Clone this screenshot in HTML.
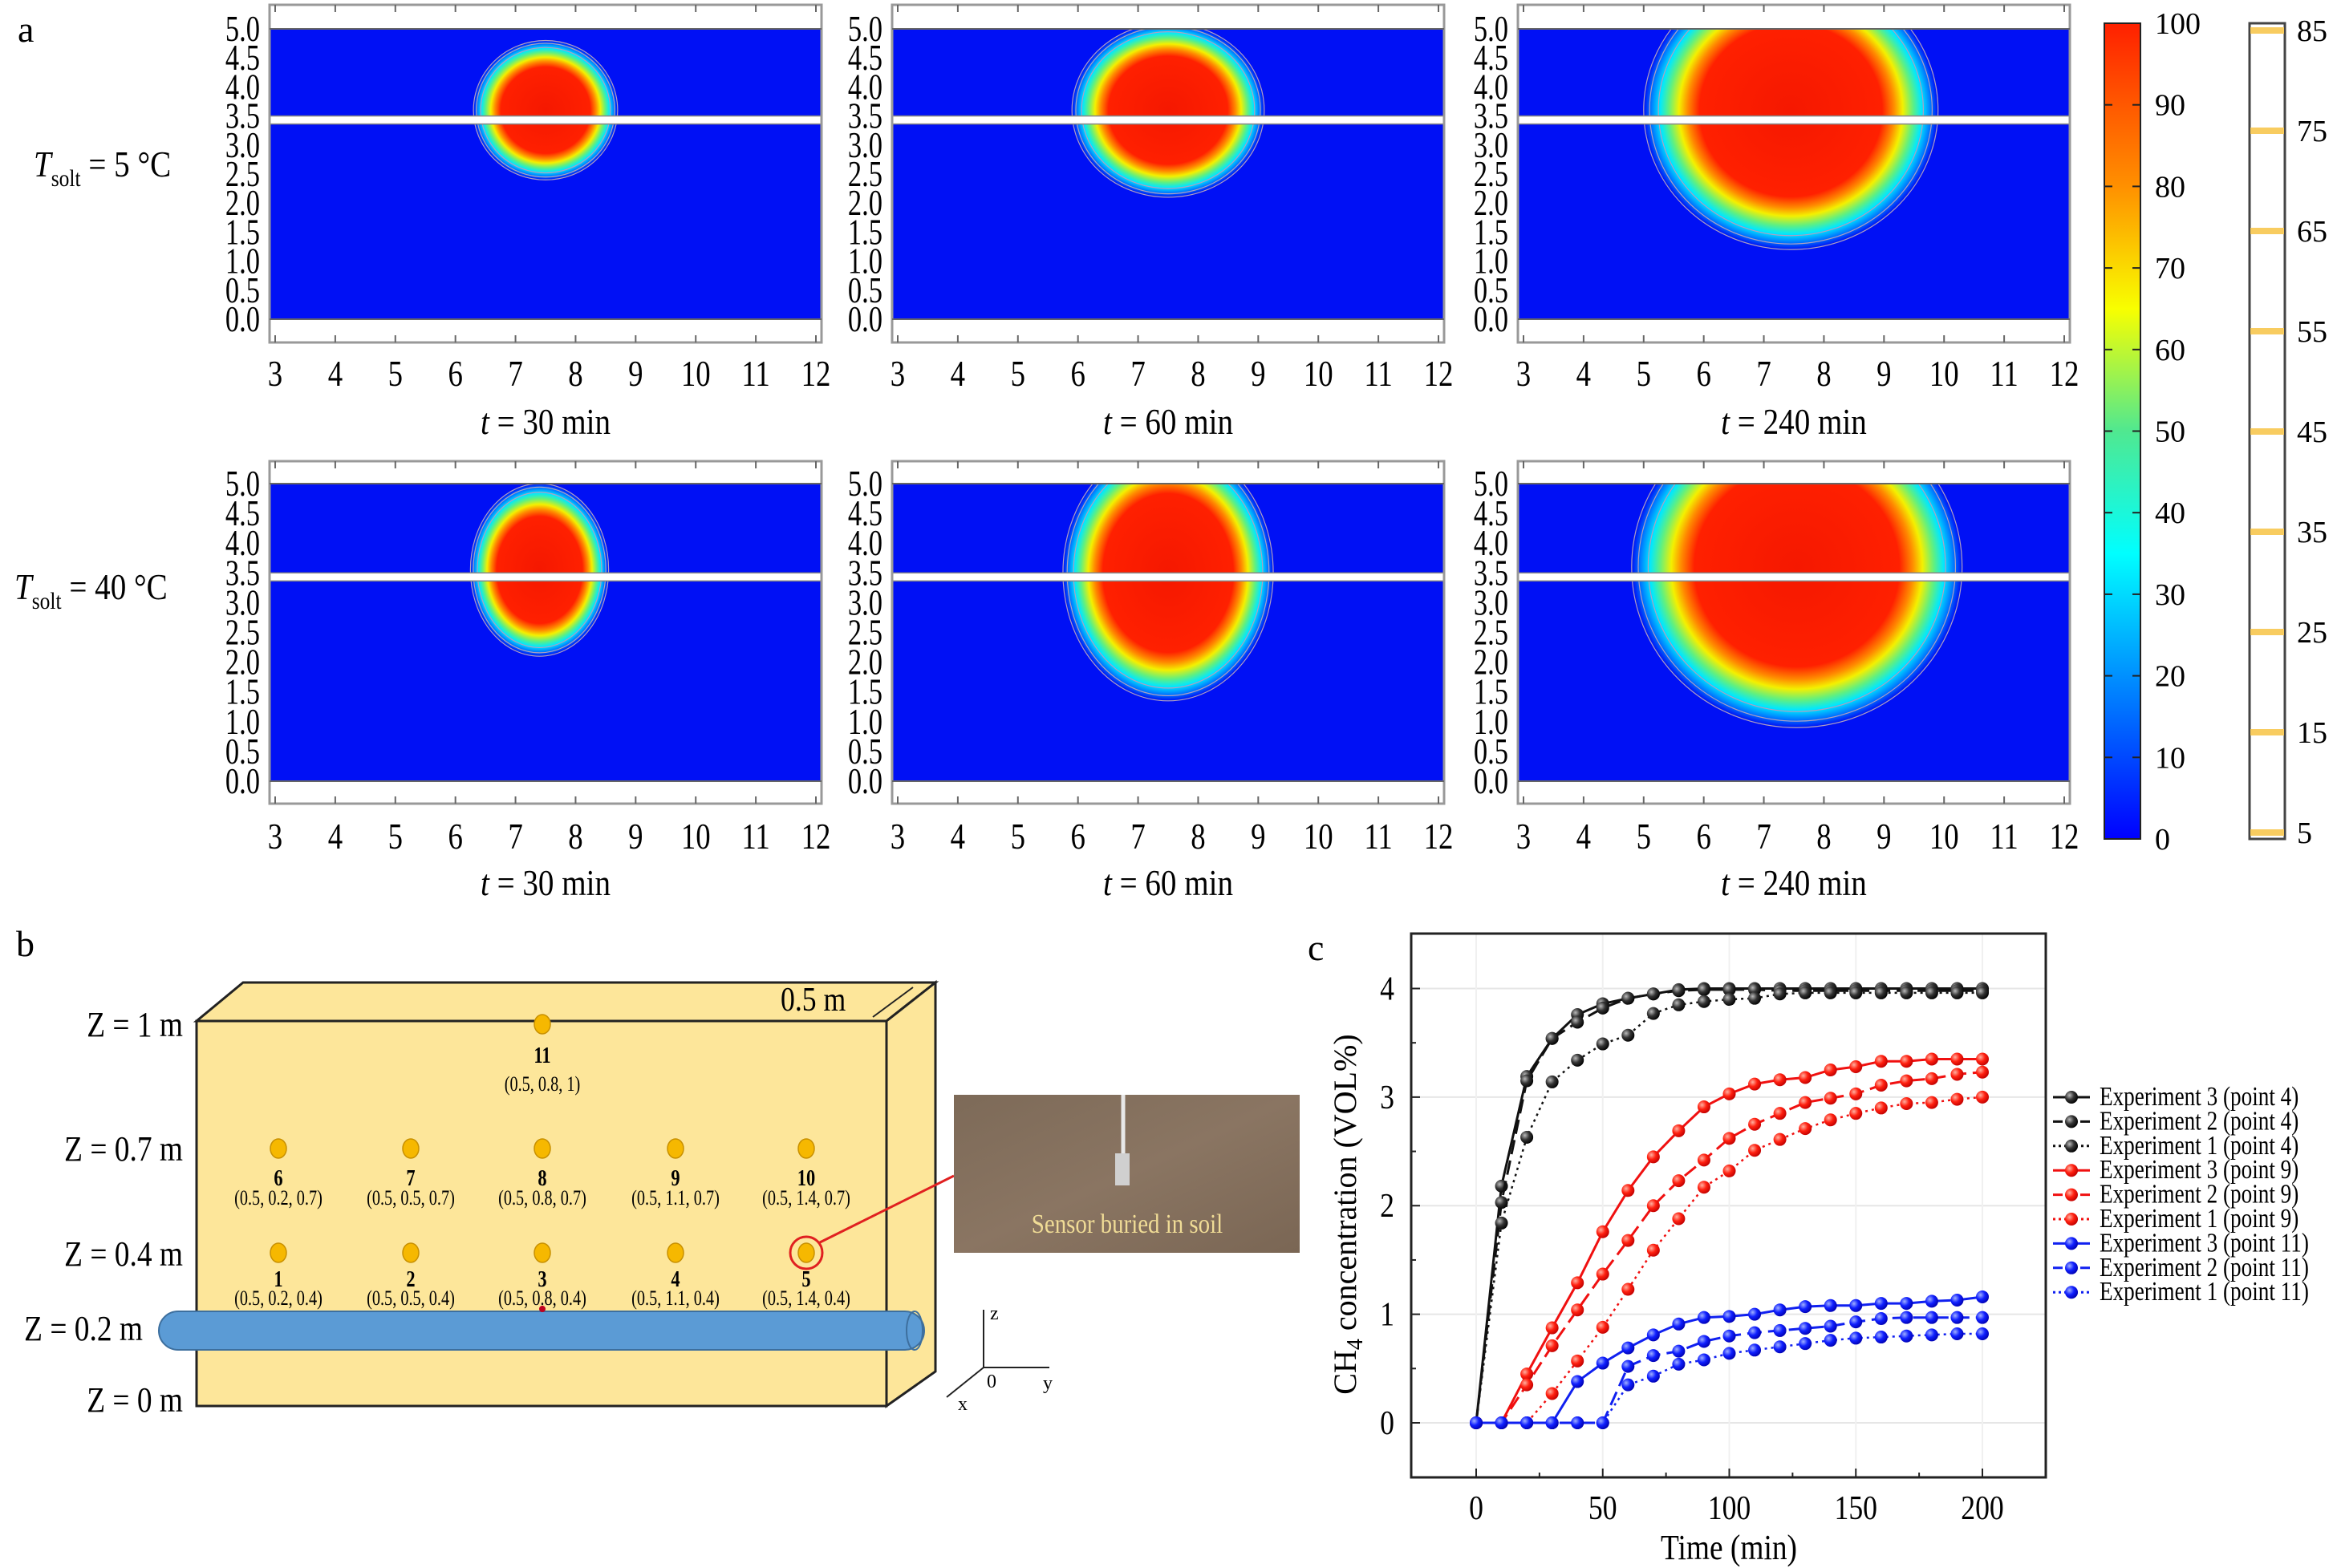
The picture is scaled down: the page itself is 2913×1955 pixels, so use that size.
<!DOCTYPE html>
<html><head><meta charset="utf-8">
<style>
html,body{margin:0;padding:0;background:#fff;}
svg{display:block;font-family:"Liberation Serif",serif;}
</style></head>
<body>
<svg id="root" width="2913" height="1955" viewBox="0 0 2913 1955" xmlns="http://www.w3.org/2000/svg">
<defs>
  <radialGradient id="plume">
    <stop offset="0" stop-color="#f51800"/>
    <stop offset="0.62" stop-color="#ff2000"/>
    <stop offset="0.7" stop-color="#ff8a00"/>
    <stop offset="0.76" stop-color="#f4f000"/>
    <stop offset="0.83" stop-color="#60f080"/>
    <stop offset="0.89" stop-color="#00e8ff"/>
    <stop offset="0.95" stop-color="#0078ff"/>
    <stop offset="1" stop-color="#0010f5"/>
  </radialGradient>
  <linearGradient id="jet" x1="0" y1="1" x2="0" y2="0">
    <stop offset="0" stop-color="#0000ff"/>
    <stop offset="0.2" stop-color="#0090ff"/>
    <stop offset="0.35" stop-color="#00ffff"/>
    <stop offset="0.5" stop-color="#50e890"/>
    <stop offset="0.65" stop-color="#f8ff00"/>
    <stop offset="0.8" stop-color="#ff9000"/>
    <stop offset="1" stop-color="#ff2000"/>
  </linearGradient>
  <radialGradient id="ballK" cx="0.35" cy="0.35" r="0.7"><stop offset="0" stop-color="#bbb"/><stop offset="0.5" stop-color="#333"/><stop offset="1" stop-color="#000"/></radialGradient>
  <radialGradient id="ballR" cx="0.35" cy="0.35" r="0.7"><stop offset="0" stop-color="#ffb0a0"/><stop offset="0.5" stop-color="#ff2010"/><stop offset="1" stop-color="#c00000"/></radialGradient>
  <radialGradient id="ballB" cx="0.35" cy="0.35" r="0.7"><stop offset="0" stop-color="#a0b0ff"/><stop offset="0.5" stop-color="#1020ff"/><stop offset="1" stop-color="#0000b0"/></radialGradient>
  <linearGradient id="soil" x1="0" y1="0" x2="1" y2="1"><stop offset="0" stop-color="#7d6a58"/><stop offset="0.5" stop-color="#8a7562"/><stop offset="1" stop-color="#7a6654"/></linearGradient>
</defs>

<text x="22" y="52" font-size="46">a</text>
<text x="20" y="1192" font-size="46">b</text>
<text x="1630" y="1197" font-size="46">c</text>

<g id="heatmaps"></g>

<text x="42" y="220" font-size="46" font-style="italic" transform="translate(42,0) scale(0.85,1) translate(-42,0)">T<tspan font-style="normal" font-size="30" dy="12">solt</tspan><tspan font-style="normal" dy="-12"> = 5 °C</tspan></text>
<text x="18" y="747" font-size="46" font-style="italic" transform="translate(18,0) scale(0.85,1) translate(-18,0)">T<tspan font-style="normal" font-size="30" dy="12">solt</tspan><tspan font-style="normal" dy="-12"> = 40 °C</tspan></text>

<g id="colorbars"></g>

<g id="panelb">
  <polygon points="245,1273 303,1225 1166,1225 1105,1273" fill="#fde69a" stroke="#222" stroke-width="3"/>
  <polygon points="1105,1273 1166,1225 1166,1710 1105,1753" fill="#fde69a" stroke="#222" stroke-width="3"/>
  <rect x="245" y="1273" width="860" height="480" fill="#fde69a" stroke="#222" stroke-width="3"/>
  <text x="973" y="1260" font-size="42" transform="translate(973,0) scale(0.85,1) translate(-973,0)">0.5 m</text>
  <line x1="1088" y1="1268" x2="1138" y2="1231" stroke="#222" stroke-width="2"/>
  <rect x="198" y="1635" width="954" height="48" rx="24" fill="#5b9bd5" stroke="#3d6f9e" stroke-width="2"/>
  <ellipse cx="1140" cy="1659" rx="10" ry="24" fill="none" stroke="#3d6f9e" stroke-width="2"/>
  <g font-size="44" text-anchor="end">
    <text x="228" y="1292" transform="translate(228,0) scale(0.85,1) translate(-228,0)">Z = 1 m</text>
    <text x="228" y="1447" transform="translate(228,0) scale(0.85,1) translate(-228,0)">Z = 0.7 m</text>
    <text x="228" y="1578" transform="translate(228,0) scale(0.85,1) translate(-228,0)">Z = 0.4 m</text>
    <text x="178" y="1671" transform="translate(178,0) scale(0.85,1) translate(-178,0)">Z = 0.2 m</text>
    <text x="228" y="1760" transform="translate(228,0) scale(0.85,1) translate(-228,0)">Z = 0 m</text>
  </g>
  <g id="sensors"></g>
  <circle cx="1005" cy="1562" r="20" fill="none" stroke="#e02020" stroke-width="3"/>
  <line x1="1020" y1="1550" x2="1189" y2="1466" stroke="#e02020" stroke-width="3"/>
  <rect x="1189" y="1365" width="431" height="197" fill="url(#soil)"/>
  <line x1="1400" y1="1365" x2="1400" y2="1440" stroke="#e8e8e8" stroke-width="5"/>
  <rect x="1390" y="1438" width="18" height="40" fill="#d0d0d0"/>
  <text x="1405" y="1537" font-size="34" fill="#f0dc96" text-anchor="middle" transform="translate(1405,0) scale(0.85,1) translate(-1405,0)">Sensor buried in soil</text>
  <g stroke="#222" stroke-width="2" fill="none">
    <line x1="1226" y1="1705" x2="1226" y2="1633"/><line x1="1226" y1="1705" x2="1308" y2="1705"/><line x1="1226" y1="1705" x2="1180" y2="1742"/>
  </g>
  <text x="1234" y="1645" font-size="24">z</text>
  <text x="1300" y="1732" font-size="24">y</text>
  <text x="1230" y="1730" font-size="24">0</text>
  <text x="1194" y="1758" font-size="24">x</text>
</g>

<g id="panelc"></g>
</svg>
<script>
var NS="http://www.w3.org/2000/svg";
function mk(tag,attrs,parent){var e=document.createElementNS(NS,tag);for(var k in attrs)e.setAttribute(k,attrs[k]);if(parent)parent.appendChild(e);return e;}
function cond(x,s){return 'translate('+x+',0) scale('+s+',1) translate('+(-x)+',0)';}

/* ---------- panel a data ---------- */
var panelTimes=["t = 30 min","t = 60 min","t = 240 min"];
var plumeCx=[[7.5,7.5,7.45],[7.4,7.5,7.55]];
var plumeCy=[[3.6,3.6,3.6],[3.55,3.5,3.6]];
var plumeRx=[[1.2,1.6,2.45],[1.15,1.75,2.75]];
var plumeRy=[[1.2,1.5,2.4],[1.45,2.15,2.7]];
var xTicks=[3,4,5,6,7,8,9,10,11,12];
var yTicks=[0,0.5,1,1.5,2,2.5,3,3.5,4,4.5,5];

var colL=[336,1112,1892], W=688;
var rows=[{top:6,b5:36,b0:398,bot:427,xl:464,tl:525},{top:575,b5:603,b0:974,bot:1002,xl:1041,tl:1100}];
var hm=document.getElementById('heatmaps');
for(var r=0;r<2;r++){for(var c=0;c<3;c++){
  var L=colL[c],R=rows[r];
  var g=mk('g',{},hm);
  
  
  var sx=function(v){return L+7+(v-3)*(W-14)/9;};
  var sy=function(v){return R.b0-(v)*(R.b0-R.b5)/5;};
  var cid='clip'+r+c;
  var cp=mk('clipPath',{id:cid},g);mk('rect',{x:L,y:R.b5,width:W,height:R.b0-R.b5},cp);
  var bg=mk('rect',{x:L,y:R.b5,width:W,height:R.b0-R.b5,fill:'#0010f5'},g);
  
  
  var cxp=sx(plumeCx[r][c]),cyp=sy(plumeCy[r][c]);
  var rxp=plumeRx[r][c]*(W-14)/9, ryp=plumeRy[r][c]*(R.b0-R.b5)/5;
  var el=mk('ellipse',{cx:cxp,cy:cyp,rx:rxp,ry:ryp,fill:'url(#plume)','clip-path':'url(#'+cid+')'},g);
  
  
  [1.0,0.96,0.9].forEach(function(f){mk('ellipse',{cx:cxp,cy:cyp,rx:rxp*f,ry:ryp*f,fill:'none',stroke:'#b0a0c0','stroke-width':1.2,'clip-path':'url(#'+cid+')'},g);});
  var ys=sy(3.5);
  var st=mk('rect',{x:L,y:ys,width:W,height:10,fill:'#fff',stroke:'#888','stroke-width':1.5},g);
  
  
  mk('rect',{x:L,y:R.top,width:W,height:R.bot-R.top,fill:'none',stroke:'#999','stroke-width':3},g);
  mk('line',{x1:L,y1:R.b5,x2:L+W,y2:R.b5,stroke:'#666','stroke-width':2},g);
  mk('line',{x1:L,y1:R.b0,x2:L+W,y2:R.b0,stroke:'#666','stroke-width':2},g);
  xTicks.forEach(function(v){
    mk('line',{x1:sx(v),y1:R.top,x2:sx(v),y2:R.top+9,stroke:'#666','stroke-width':2},g);
    mk('line',{x1:sx(v),y1:R.bot,x2:sx(v),y2:R.bot-9,stroke:'#666','stroke-width':2},g);
    var t=mk('text',{x:sx(v),y:R.xl+17,'font-size':46,'text-anchor':'middle',transform:cond(sx(v),0.8)},g);t.textContent=v;
    
    
  });
  yTicks.forEach(function(v){
    var t=mk('text',{x:L-12,y:sy(v)+15,'font-size':46,'text-anchor':'end',transform:cond(L-12,0.75)},g);
    t.textContent=v.toFixed(1);
    
    
  });
  var tt=mk('text',{x:L+W/2,y:R.tl+16,'font-size':46,'text-anchor':'middle',transform:cond(L+W/2,0.85)},g);
  tt.innerHTML='<tspan font-style="italic">t</tspan>'+panelTimes[c].slice(1);
  
  
}}

/* colorbars */
var cbTicks=[0,10,20,30,40,50,60,70,80,90,100];
var contourTicks=[5,15,25,35,45,55,65,75,85];
var cb=document.getElementById('colorbars');
var cbr=mk('rect',{x:2623,y:29,width:45,height:1017,fill:'url(#jet)',stroke:'#222','stroke-width':2},cb);


cbTicks.forEach(function(v){
  var y=1046-v*1017/100;
  if(v>0&&v<100){mk('line',{x1:2623,y1:y,x2:2633,y2:y,stroke:'#222','stroke-width':2},cb);mk('line',{x1:2658,y1:y,x2:2668,y2:y,stroke:'#222','stroke-width':2},cb);}
  var t=mk('text',{x:2686,y:y+13,'font-size':38},cb);t.textContent=v;
  
  
});
var cb2=mk('rect',{x:2804,y:29,width:44,height:1017,fill:'#fff',stroke:'#444','stroke-width':3},cb);


contourTicks.forEach(function(v){
  var y=1038-(v-5)*1000/80;
  mk('rect',{x:2805,y:y-4,width:42,height:8,fill:'#f8cc60'},cb);
  var t=mk('text',{x:2863,y:y+13,'font-size':38},cb);t.textContent=v;
  
  
});

/* sensors */
var sensorIds=[1,2,3,4,5,6,7,8,9,10];
var sensorCoords=["(0.5, 0.2, 0.4)","(0.5, 0.5, 0.4)","(0.5, 0.8, 0.4)","(0.5, 1.1, 0.4)","(0.5, 1.4, 0.4)","(0.5, 0.2, 0.7)","(0.5, 0.5, 0.7)","(0.5, 0.8, 0.7)","(0.5, 1.1, 0.7)","(0.5, 1.4, 0.7)"];
var sg=document.getElementById('sensors');
var colX=[347,512,676,842,1005];
function sensor(x,y,id,coord,ly,cy){
  var d=mk('ellipse',{cx:x,cy:y,rx:10,ry:12,fill:'#f6b800',stroke:'#c89000','stroke-width':1.5},sg);
  
  
  var t=mk('text',{x:x,y:ly,'font-size':28,'font-weight':'bold','text-anchor':'middle',transform:cond(x,0.8)},sg);t.textContent=id;
  
  
  var t2=mk('text',{x:x,y:cy,'font-size':26,'text-anchor':'middle',transform:cond(x,0.78)},sg);t2.textContent=coord;
  
  
}
for(var i=0;i<10;i++){var row=i<5?0:1;sensor(colX[i%5],row?1432:1562,sensorIds[i],sensorCoords[i],row?1478:1604,row?1502:1627);}
sensor(676,1277,11,"(0.5, 0.8, 1)",1325,1360);
mk('circle',{cx:676,cy:1632,r:4,fill:'#c00020'},sg);

/* ---------- panel c ---------- */
var times=[0,10,20,30,40,50,60,70,80,90,100,110,120,130,140,150,160,170,180,190,200];
var p4e3=[0,2.18,3.19,3.54,3.76,3.86,3.91,3.95,3.99,4,4,4,4,4,4,4,4,4,4,4,4];
var p4e2=[0,2.03,3.15,3.54,3.69,3.82,3.91,3.95,3.98,3.99,3.99,3.99,3.98,3.98,3.98,3.98,3.98,3.98,3.98,3.98,3.98];
var p4e1=[0,1.84,2.63,3.14,3.34,3.49,3.57,3.77,3.85,3.88,3.9,3.91,3.95,3.96,3.96,3.96,3.96,3.96,3.96,3.96,3.96];
var p9e3=[0,0,0.45,0.875,1.29,1.76,2.14,2.45,2.69,2.91,3.03,3.12,3.16,3.18,3.25,3.28,3.33,3.33,3.35,3.35,3.35];
var p9e2=[0,0,0.35,0.71,1.04,1.37,1.68,2.0,2.23,2.42,2.62,2.75,2.85,2.95,2.99,3.03,3.11,3.15,3.17,3.21,3.23];
var p9e1=[0,0,0,0.27,0.57,0.88,1.23,1.59,1.88,2.17,2.32,2.51,2.61,2.71,2.79,2.85,2.9,2.94,2.95,2.98,3.0];
var p11e3=[0,0,0,0,0.38,0.55,0.69,0.81,0.91,0.97,0.98,1.0,1.04,1.07,1.08,1.08,1.1,1.1,1.12,1.13,1.16];
var p11e2=[0,0,0,0,0,0,0.52,0.62,0.66,0.75,0.8,0.83,0.85,0.87,0.89,0.93,0.96,0.97,0.97,0.97,0.97];
var p11e1=[0,0,0,0,0,0,0.35,0.43,0.54,0.58,0.64,0.67,0.7,0.73,0.76,0.78,0.79,0.8,0.81,0.82,0.82];
var seriesNames=["Experiment 3 (point 4)","Experiment 2 (point 4)","Experiment 1 (point 4)","Experiment 3 (point 9)","Experiment 2 (point 9)","Experiment 1 (point 9)","Experiment 3 (point 11)","Experiment 2 (point 11)","Experiment 1 (point 11)"];
var xTickVals=[0,50,100,150,200];
var yTickVals=[0,1,2,3,4];

var pc=document.getElementById('panelc');
var X=function(v){return 1840+v*(2471-1840)/200;};
var Y=function(v){return 1774-v*(1774-1232.5)/4;};
yTickVals.forEach(function(v){mk('line',{x1:1760,y1:Y(v),x2:2549,y2:Y(v),stroke:'#e6e6e6','stroke-width':2},pc);});
xTickVals.forEach(function(v){mk('line',{x1:X(v),y1:1165,x2:X(v),y2:1841,stroke:'#f0f0f0','stroke-width':2},pc);});
var fr=mk('rect',{x:1759,y:1164,width:791,height:678,fill:'none',stroke:'#222','stroke-width':3},pc);


for(var v=0;v<=200;v+=25){mk('line',{x1:X(v),y1:1842,x2:X(v),y2:1842-(v%50?6:11),stroke:'#222','stroke-width':2},pc);}
for(var v=-0.5;v<=4.5;v+=0.5){var yy=Y(v);if(yy<1166||yy>1840)continue;mk('line',{x1:1759,y1:yy,x2:1759+(v%1?6:11),y2:yy,stroke:'#222','stroke-width':2},pc);}
xTickVals.forEach(function(v){var t=mk('text',{x:X(v),y:1894,'font-size':42,'text-anchor':'middle',transform:cond(X(v),0.85)},pc);t.textContent=v;
  
  });
yTickVals.forEach(function(v){var t=mk('text',{x:1738,y:Y(v)+14,'font-size':42,'text-anchor':'end',transform:cond(1738,0.85)},pc);t.textContent=v;
  
  });
var xt=mk('text',{x:2155,y:1944,'font-size':44,'text-anchor':'middle',transform:cond(2155,0.85)},pc);xt.textContent='Time (min)';


var yt=mk('text',{x:1690,y:1514,'font-size':40,'text-anchor':'middle',transform:'rotate(-90 1690 1514)'},pc);
yt.innerHTML='CH<tspan font-size="28" dy="8">4</tspan><tspan dy="-8"> concentration (VOL%)</tspan>';



var allSeries=[p4e3,p4e2,p4e1,p9e3,p9e2,p9e1,p11e3,p11e2,p11e1];
var cols=['#111','#111','#111','#f01010','#f01010','#f01010','#1020f0','#1020f0','#1020f0'];
var balls=['ballK','ballK','ballK','ballR','ballR','ballR','ballB','ballB','ballB'];
var dashes=['none','18,8','3,5','none','18,8','3,5','none','18,8','3,5'];
allSeries.forEach(function(s,i){
  var d='';s.forEach(function(v,j){d+=(j?'L':'M')+X(times[j]).toFixed(1)+','+Y(v).toFixed(1);});
  var g=mk('g',{},pc);
  
  
  var p=mk('path',{d:d,fill:'none',stroke:cols[i],'stroke-width':i%3==2?2.5:3,'stroke-dasharray':dashes[i]},g);
  
  
  s.forEach(function(v,j){
    var m=mk('circle',{cx:X(times[j]),cy:Y(v),r:8,fill:'url(#'+balls[i]+')'},g);
    
    
  });
  var ly=1368+i*30.4;
  var lg=mk('g',{},pc);
  
  
  mk('line',{x1:2559,y1:ly,x2:2605,y2:ly,stroke:cols[i],'stroke-width':3,'stroke-dasharray':dashes[i]==='none'?'none':(i%3==1?'12,5':'3,4')},lg);
  mk('circle',{cx:2582,cy:ly,r:8,fill:'url(#'+balls[i]+')'},lg);
  var t=mk('text',{x:2617,y:ly+10,'font-size':34,transform:cond(2617,0.8)},lg);t.textContent=seriesNames[i];
});
</script>
</body></html>
